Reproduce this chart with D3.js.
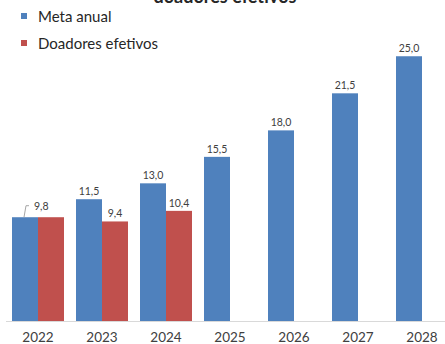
<!DOCTYPE html>
<html><head><meta charset="utf-8">
<script src="https://cdn.jsdelivr.net/npm/d3@7"></script>
<style>body{margin:0;background:#fff;} svg{display:block;}</style>
</head><body>
<svg id="c" width="445" height="344"></svg>
<script>
const categories = ["2022","2023","2024","2025","2026","2027","2028"];
const metaAnual = [9.8, 11.5, 13.0, 15.5, 18.0, 21.5, 25.0];
const doadoresEfetivos = [9.8, 9.4, 10.4, null, null, null, null];
const seriesNames = ["Meta anual", "Doadores efetivos"];
const seriesColors = ["#4F81BD", "#C0504D"];
const titleText = "doadores efetivos";

const svg = d3.select("#c");
const font = "Lato, 'Open Sans', sans-serif";

const x = d3.scaleBand().domain(categories).range([6, 454]).paddingInner(0.1875).paddingOuter(0.09375);
const x1 = d3.scaleBand().domain([0,1]).range([0, x.bandwidth()]);
const y = d3.scaleLinear().domain([0, 30]).range([321, 3.3]);

// title (cropped at top, as in the reference)
svg.append("text").attr("x", 225).attr("y", 3).attr("text-anchor","middle")
  .attr("font-family", font).attr("font-weight","bold").attr("font-size", 18).attr("fill","#262626")
  .text(titleText);

// axis line
svg.append("line").attr("x1", 6).attr("x2", 445).attr("y1", y(0)+0.5).attr("y2", y(0)+0.5)
  .attr("stroke", "#D9D9D9").attr("stroke-width", 1);

const data = [metaAnual, doadoresEfetivos];
data.forEach((vals, si) => {
  const g = svg.append("g");
  categories.forEach((c, i) => {
    const v = vals[i];
    if (v == null) return;
    g.append("rect")
      .attr("x", x(c) + x1(si)).attr("y", y(v))
      .attr("width", x1.bandwidth()).attr("height", y(0) - y(v))
      .attr("fill", seriesColors[si]);
  });
});

// data labels (the 2022 values coincide; the reference shows a single label with a leader line)
const fmt = v => d3.format(".1f")(v).replace(".", ",");
data.forEach((vals, si) => {
  categories.forEach((c, i) => {
    const v = vals[i];
    if (v == null) return;
    if (i === 0 && si === 1) return;
    let cx = x(c) + x1(si) + x1.bandwidth()/2;
    let ty = y(v) - 4;
    let anchor = "middle";
    if (i === 0 && si === 0) {
      const bx = x(c) + x1(si) + 12;
      svg.append("path")
        .attr("d", `M${bx},${y(v)} L${bx+2},${y(v)-11.5} L${bx+5},${y(v)-11.5}`)
        .attr("fill","none").attr("stroke","#A6A6A6").attr("stroke-width",1);
      cx = bx + 10; ty = y(v) - 7; anchor = "start";
    }
    svg.append("text").attr("x", cx).attr("y", ty).attr("text-anchor", anchor)
      .attr("font-family", font).attr("font-size", 10.5).attr("fill", "#404040")
      .text(fmt(v));
  });
});

// x axis labels
categories.forEach(c => {
  svg.append("text").attr("x", x(c) + x.bandwidth()/2).attr("y", 341.5)
    .attr("text-anchor","middle").attr("font-family", font).attr("font-size", 13.5)
    .attr("fill","#404040").text(c);
});

// legend
seriesNames.forEach((n, i) => {
  const ly = 16 + i*27;
  svg.append("rect").attr("x", 21).attr("y", ly - 3).attr("width", 6).attr("height", 6)
    .attr("fill", seriesColors[i]);
  svg.append("text").attr("x", 38).attr("y", ly + 5.5)
    .attr("font-family", font).attr("font-size", 15).attr("fill", "#262626").text(n);
});
</script>
</body></html>
